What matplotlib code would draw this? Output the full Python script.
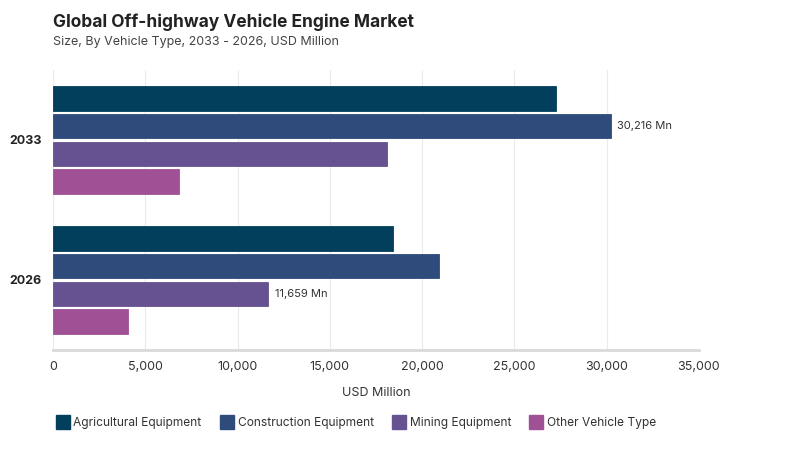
import numpy as np
import matplotlib
matplotlib.use("Agg")
import matplotlib.pyplot as plt
from matplotlib.lines import Line2D

plt.rcParams['font.family'] = ['Inter', 'DejaVu Sans']

years = ["2033", "2026"]
segments = ["Agricultural Equipment", "Construction Equipment", "Mining Equipment", "Other Vehicle Type"]
agricultural = [27250, 18440]
construction = [30216, 20910]
mining = [18090, 11659]
other = [6810, 4060]
colors = ["#023f5c", "#2f4b7c", "#665191", "#a05195"]

# which bars carry a value label
labelled = {(1, 0): "30,216 Mn", (2, 1): "11,659 Mn"}

fig = plt.figure(figsize=(8, 4.5), dpi=100)
ax = fig.add_axes([53 / 800, 1 - 350 / 450, 646 / 800, 280 / 450])

series = [agricultural, construction, mining, other]
y_centers = np.arange(len(years))[::-1].astype(float)  # 2033 on top
slot = 0.197
bar_h = 0.175
for i, vals in enumerate(series):
    offs = (i - 1.5) * slot
    ys = y_centers - offs
    ax.barh(ys, vals, height=bar_h, color=colors[i], edgecolor=colors[i],
            linewidth=0.6, zorder=3)
    for j, v in enumerate(vals):
        if (i, j) in labelled:
            ax.text(v + 350, ys[j], labelled[(i, j)], va='center', ha='left',
                    fontsize=8, color='#333333', zorder=4)

ax.set_xlim(0, 35000)
ax.set_ylim(-0.5, 1.5)
ax.set_xticks(np.arange(0, 35001, 5000))
ax.set_xticklabels([f"{int(t):,}" for t in np.arange(0, 35001, 5000)],
                   fontsize=9, color='#333333')
ax.set_yticks(y_centers)
ax.set_yticklabels(years, fontsize=9, fontweight='bold', color='#222222')
ax.tick_params(axis='both', length=0, pad=8)
ax.grid(axis='x', color='#ebebeb', linewidth=0.8, zorder=0)
for s in ['top', 'right', 'left']:
    ax.spines[s].set_visible(False)
ax.spines['bottom'].set_color('#d9d9d9')
ax.spines['bottom'].set_linewidth(2)
ax.set_xlabel("USD Million", fontsize=9, color='#333333', labelpad=10)

fig.text(53 / 800, 1 - 22 / 450, "Global Off-highway Vehicle Engine Market",
         fontsize=12.5, fontweight='bold', color='#222222', va='center')
fig.text(53 / 800, 1 - 42 / 450, "Size, By Vehicle Type, 2033 - 2026, USD Million",
         fontsize=9, color='#444444', va='center')

handles = [Line2D([0], [0], marker='s', linestyle='none', markersize=10,
                  markerfacecolor=c, markeredgecolor=c) for c in colors]
fig.legend(handles, segments, loc='center left', bbox_to_anchor=(46 / 800, 1 - 423 / 450),
           ncol=4, frameon=False, fontsize=8.6, handlelength=1.0, handletextpad=0.4,
           columnspacing=1.6, labelcolor='#333333')

fig.savefig("out.png", dpi=100)
